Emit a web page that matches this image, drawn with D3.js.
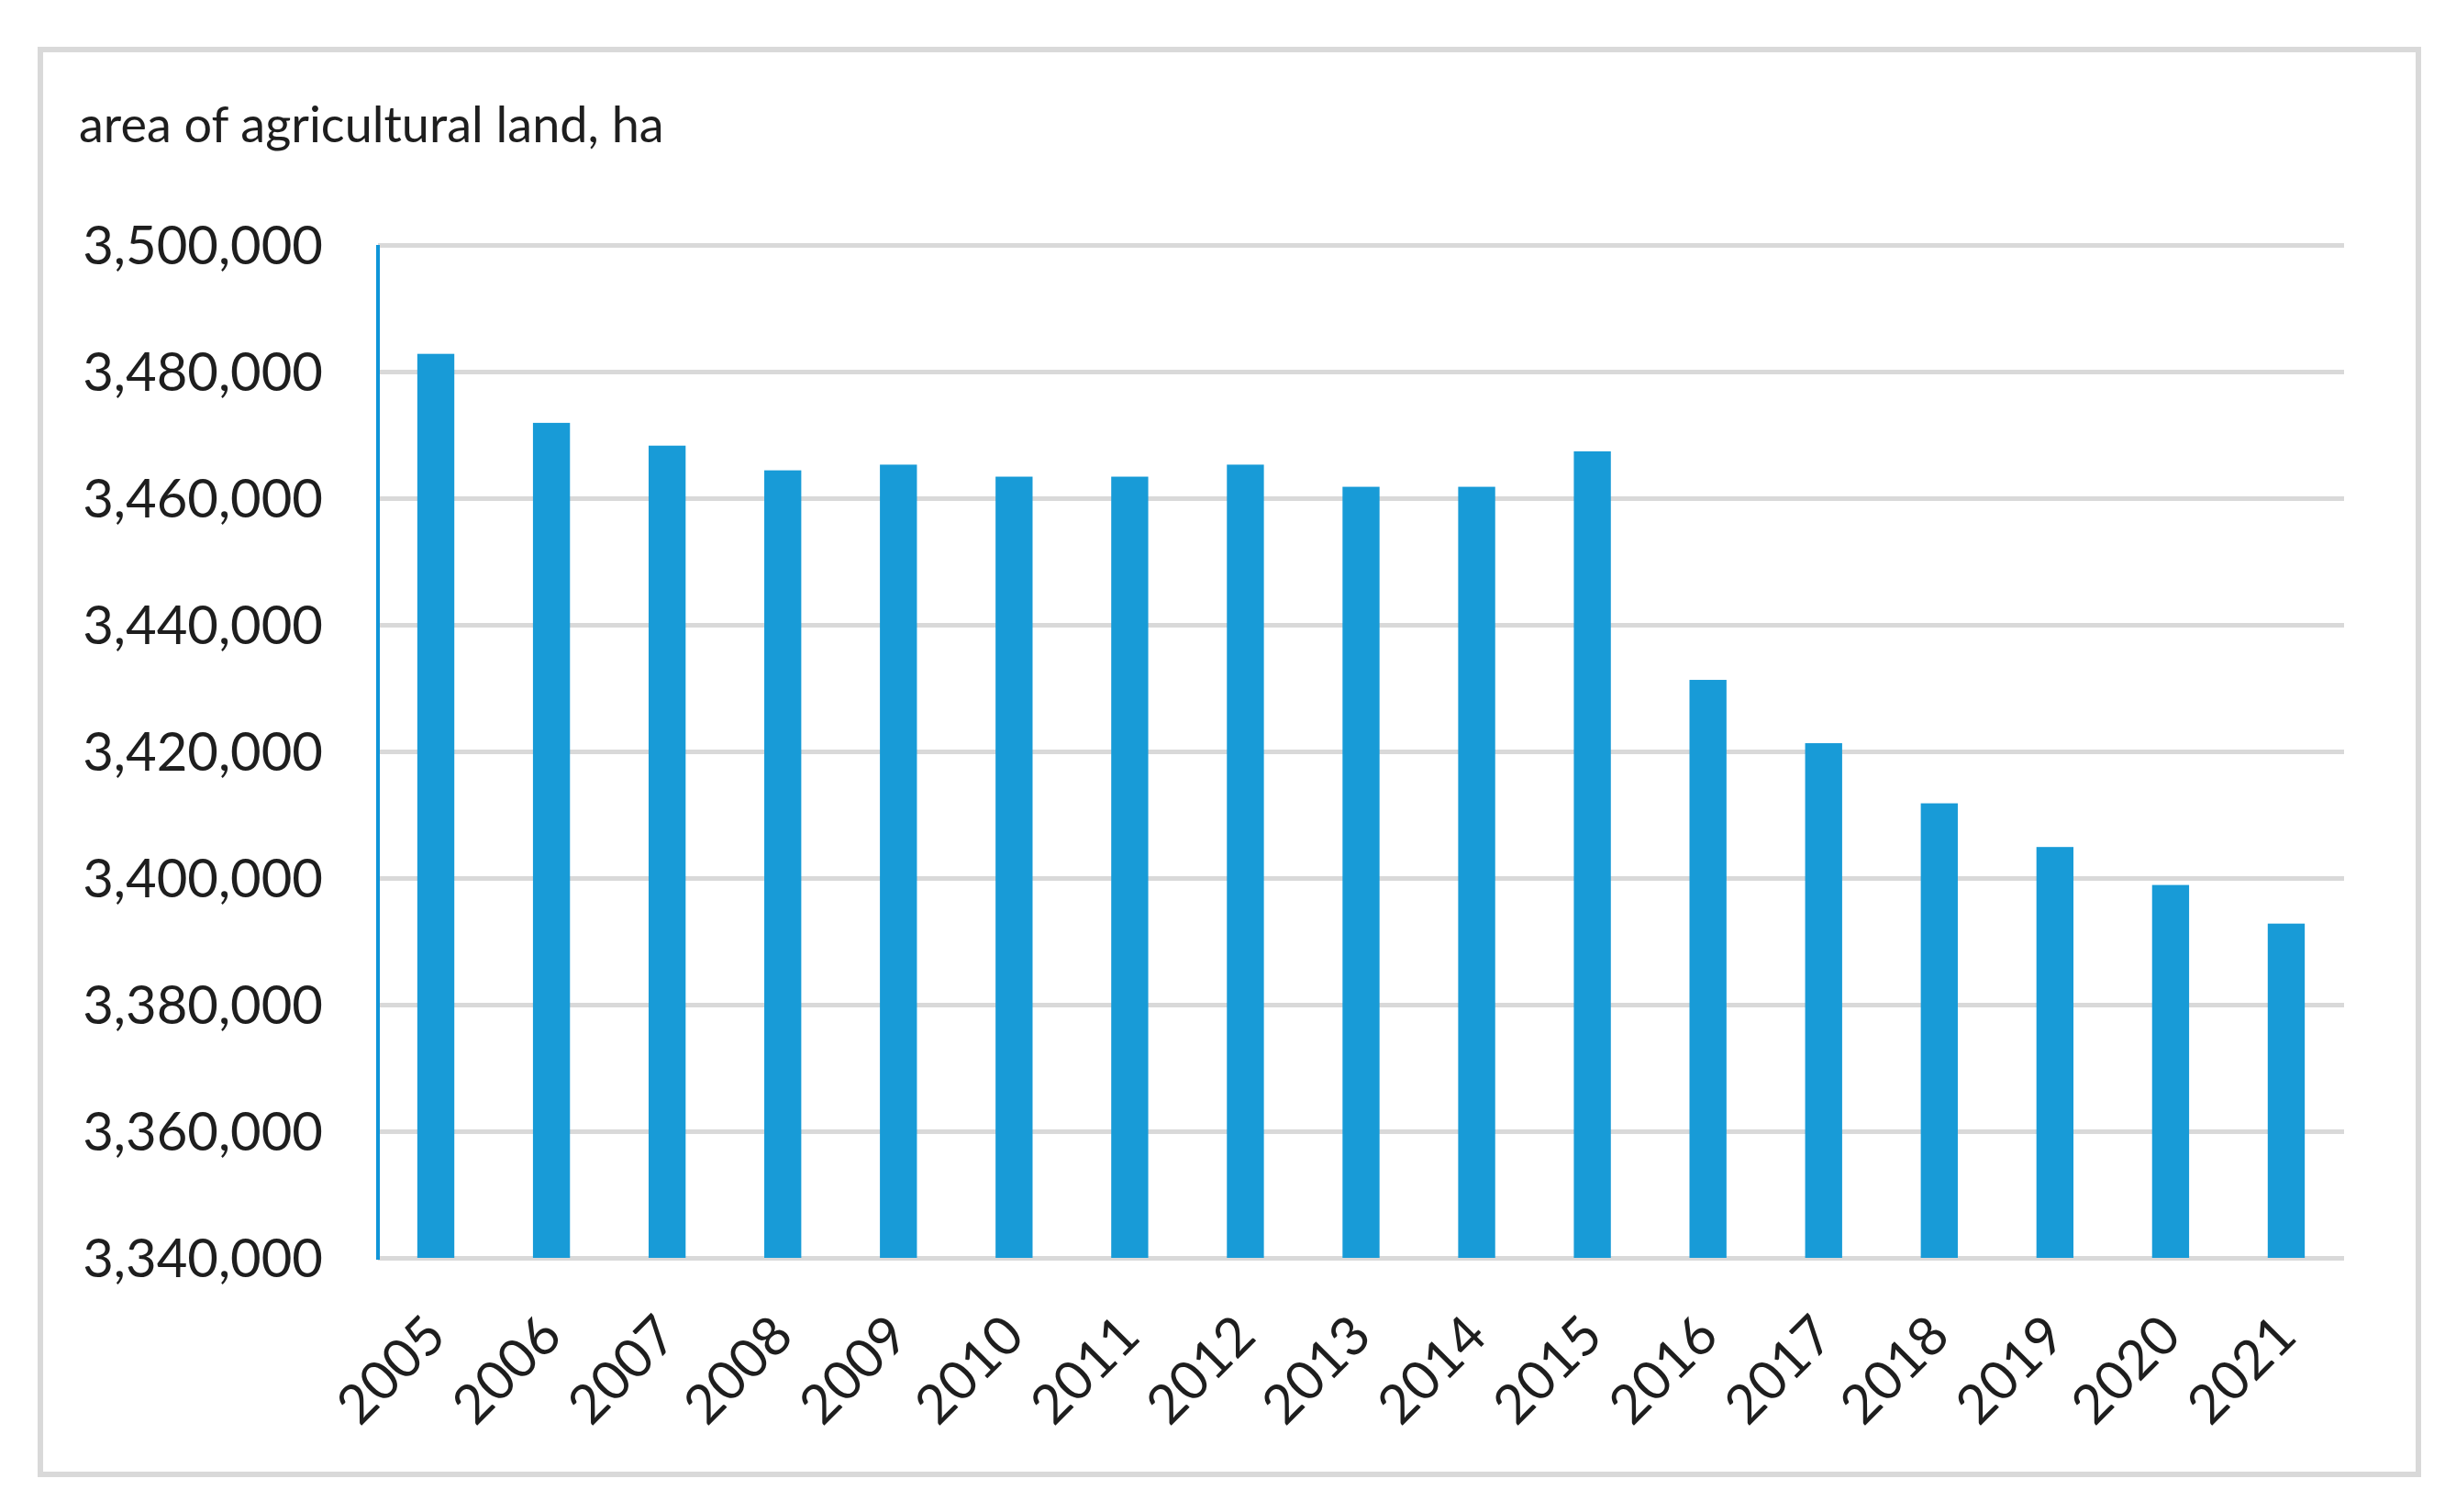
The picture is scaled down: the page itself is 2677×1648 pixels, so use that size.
<!DOCTYPE html>
<html>
<head>
<meta charset="utf-8">
<script src="https://cdn.jsdelivr.net/npm/d3@7"></script>
<style>
  html, body { margin: 0; padding: 0; background: #fff; }
  text { font-family: Lato, "Open Sans", sans-serif; fill: #1e1e1e; }
</style>
</head>
<body>
<script>
// values
var years = ["2005", "2006", "2007", "2008", "2009", "2010", "2011", "2012", "2013",
             "2014", "2015", "2016", "2017", "2018", "2019", "2020", "2021"];
var area = [3482800, 3471900, 3468300, 3464400, 3465300, 3463400, 3463400, 3465300, 3461800,
            3461800, 3467400, 3431300, 3421300, 3411800, 3404900, 3398900, 3392800];
var yTicks = [3340000, 3360000, 3380000, 3400000, 3420000, 3440000, 3460000, 3480000, 3500000];
var yTitle = "area of agricultural land, ha";

var W = 2677, H = 1648;
var plot = {left: 412, right: 2555, top: 267, bottom: 1371};

var svg = d3.select("body").append("svg")
    .attr("width", W)
    .attr("height", H);

// outer frame
svg.append("rect")
    .attr("x", 44).attr("y", 54)
    .attr("width", 2592).attr("height", 1553)
    .attr("fill", "#fff")
    .attr("stroke", "#d9d9d9")
    .attr("stroke-width", 6);

var x = d3.scaleBand()
    .domain(years)
    .range([plot.left, plot.right])
    .paddingInner(0.68)
    .paddingOuter(0.34);

var y = d3.scaleLinear()
    .domain([yTicks[0], yTicks[yTicks.length - 1]])
    .range([plot.bottom, plot.top]);

// gridlines + y labels
var yAxis = d3.axisLeft(y)
    .tickValues(yTicks)
    .tickSize(-(plot.right - plot.left))
    .tickPadding(60)
    .tickFormat(d3.format(","));

var gy = svg.append("g")
    .attr("transform", "translate(" + plot.left + ",0)")
    .call(yAxis);
gy.select(".domain").remove();
gy.selectAll(".tick line")
    .attr("stroke", "#d9d9d9")
    .attr("stroke-width", 5);
gy.selectAll(".tick text")
    .style("font-size", "58px")
    .attr("fill", "#1e1e1e")
    .attr("dy", "0.36em");

// bars
svg.append("g").selectAll("rect")
    .data(area)
    .enter().append("rect")
    .attr("x", function(d, i) { return x(years[i]); })
    .attr("y", function(d) { return y(d); })
    .attr("width", x.bandwidth())
    .attr("height", function(d) { return plot.bottom - y(d); })
    .attr("fill", "#189bd7");

// blue vertical axis line
svg.append("line")
    .attr("x1", plot.left).attr("x2", plot.left)
    .attr("y1", plot.top).attr("y2", plot.bottom + 2)
    .attr("stroke", "#0f95d8")
    .attr("stroke-width", 4);

// rotated year labels
var xAxis = d3.axisBottom(x).tickSize(0).tickPadding(0);
var gx = svg.append("g")
    .attr("transform", "translate(0," + plot.bottom + ")")
    .call(xAxis);
gx.select(".domain").remove();
gx.selectAll(".tick text")
    .style("font-size", "59px")
    .attr("fill", "#1e1e1e")
    .attr("text-anchor", "end")
    .attr("dy", null)
    .attr("y", null)
    .attr("transform", "translate(14,88) rotate(-45)");

// axis title
svg.append("text")
    .attr("x", 86)
    .attr("y", 155)
    .style("font-size", "54px")
    .text(yTitle);
</script>
</body>
</html>
